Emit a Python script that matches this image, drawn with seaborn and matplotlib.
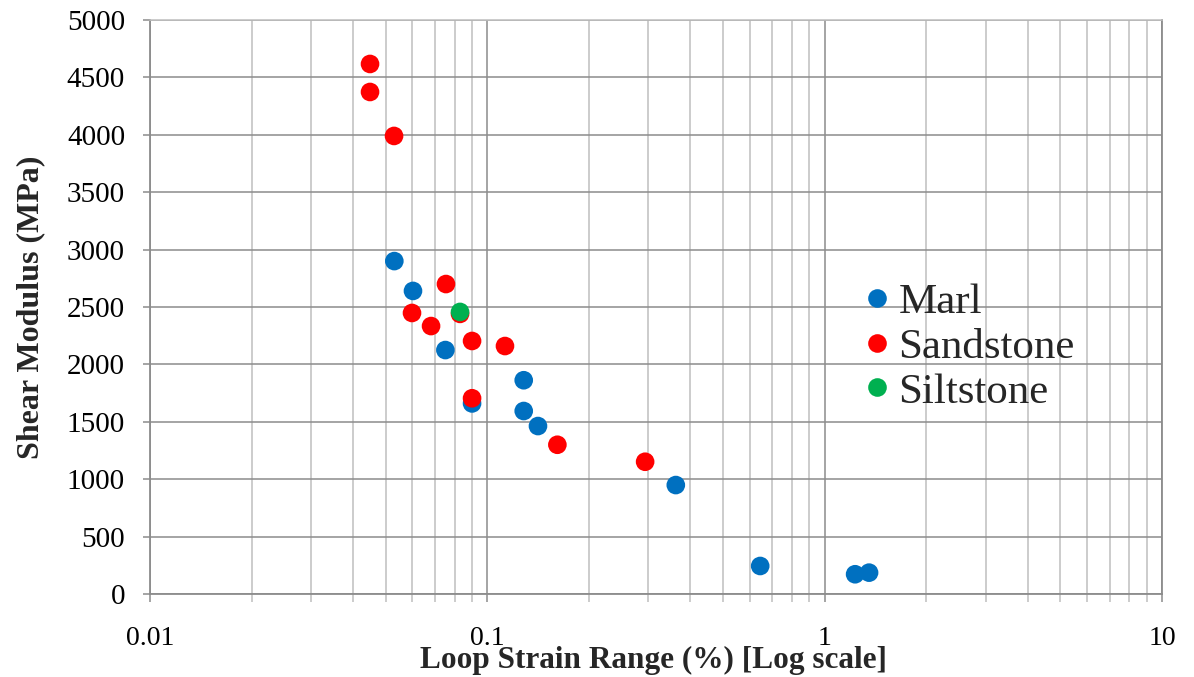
import matplotlib
matplotlib.use("Agg")
import matplotlib.pyplot as plt
import seaborn as sns
import pandas as pd
import numpy as np
from matplotlib.ticker import FixedLocator, LogLocator, NullFormatter, FixedFormatter

# ---- data ----
marl_strain = [0.053, 0.0602, 0.0751, 0.0901, 0.1282, 0.1282, 0.1413, 0.362, 0.644, 1.231, 1.354]
marl_modulus = [2900, 2640, 2125, 1660, 1862, 1594, 1463, 949, 244, 172, 186]

sand_strain = [0.0449, 0.0449, 0.0529, 0.0754, 0.0598, 0.0681, 0.0830, 0.0901, 0.1128, 0.0901, 0.1613, 0.2936]
sand_modulus = [4617, 4373, 3990, 2700, 2448, 2334, 2440, 2204, 2160, 1705, 1300, 1152]

silt_strain = [0.0830]
silt_modulus = [2457]

categories = ["Marl", "Sandstone", "Siltstone"]
colors = ["#0070C0", "#FF0000", "#00B050"]

x_ticks = [0.01, 0.1, 1, 10]
x_tick_labels = ["0.01", "0.1", "1", "10"]
y_ticks = list(range(0, 5001, 500))

df = pd.DataFrame({
    "strain": marl_strain + sand_strain + silt_strain,
    "modulus": marl_modulus + sand_modulus + silt_modulus,
    "rock": ["Marl"] * len(marl_strain) + ["Sandstone"] * len(sand_strain) + ["Siltstone"] * len(silt_strain),
})

sns.set_theme(style="white")
plt.rcParams["font.family"] = ["Liberation Serif", "DejaVu Serif"]

fig = plt.figure(figsize=(11.94, 6.77), dpi=100)
ax = fig.add_axes([150 / 1194, 1 - 594 / 677, 1012 / 1194, 574 / 677])

sns.scatterplot(data=df, x="strain", y="modulus", hue="rock", hue_order=categories,
                palette=dict(zip(categories, colors)), s=180, linewidth=0, ax=ax, zorder=3)

ax.set_xscale("log")
ax.set_xlim(0.01, 10)
ax.set_ylim(0, 5000)

ax.xaxis.set_major_locator(FixedLocator(x_ticks))
ax.xaxis.set_major_formatter(FixedFormatter(x_tick_labels))
ax.xaxis.set_minor_locator(LogLocator(base=10, subs=np.arange(2, 10)))
ax.xaxis.set_minor_formatter(NullFormatter())
ax.set_yticks(y_ticks)
ax.set_yticklabels([str(v) for v in y_ticks])

major_c = "#8c8c8c"
minor_c = "#bfbfbf"
ax.grid(True, which="major", axis="both", color=major_c, linewidth=1.1, zorder=0)
ax.grid(True, which="minor", axis="x", color=minor_c, linewidth=1.1, zorder=0)
ax.set_axisbelow(True)

for side in ["left", "bottom", "right"]:
    ax.spines[side].set_color(major_c)
    ax.spines[side].set_linewidth(1.3)
ax.spines["top"].set_color(minor_c)
ax.spines["top"].set_linewidth(1.1)

ax.tick_params(axis="y", which="major", direction="out", length=5, width=1.1, color=major_c,
               left=True, pad=13, labelsize=21, labelcolor="black")
ax.tick_params(axis="x", which="major", direction="out", length=6, width=1.1, color=major_c,
               bottom=True, pad=17, labelsize=20, labelcolor="black")
ax.tick_params(axis="x", which="minor", direction="out", length=6, width=1.1, color=minor_c,
               bottom=True)

ax.set_xlabel("Loop Strain Range (%) [Log scale]", fontsize=22.5, fontweight="bold")
ax.set_ylabel("Shear Modulus (MPa)", fontsize=23, fontweight="bold")
ax.xaxis.set_label_coords(0.498, -0.091)
ax.yaxis.set_label_coords(-0.104, 0.5)

sns.move_legend(ax, loc="center left", bbox_to_anchor=(0.7016, 0.4303), frameon=False,
                title=None, fontsize=31, borderpad=0, borderaxespad=0, handlelength=0.8,
                handletextpad=0.09, labelspacing=0.135, markerscale=1.0)

fig.savefig("out.png", dpi=100)
